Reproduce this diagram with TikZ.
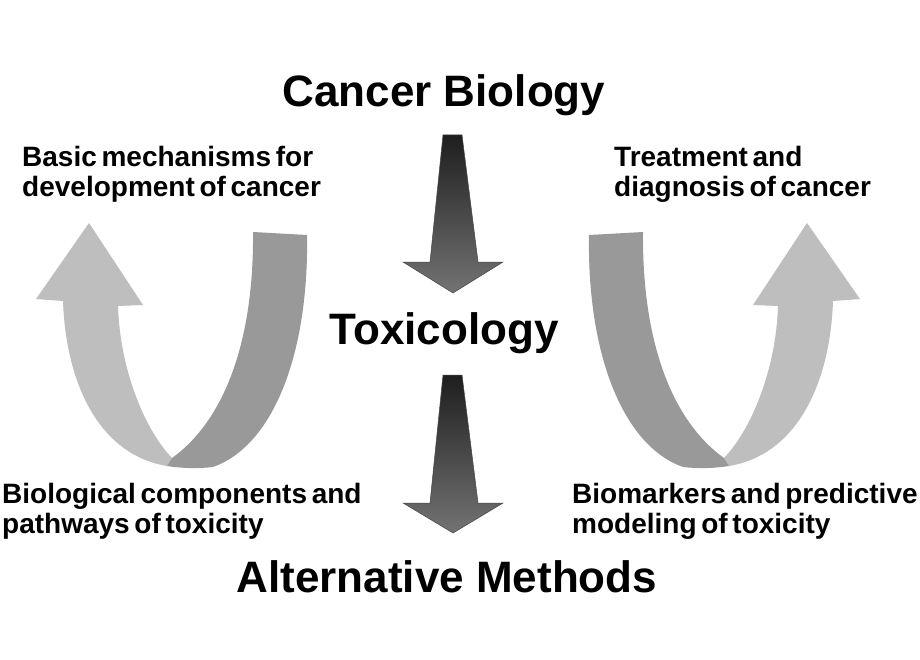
\documentclass[tikz,border=0pt]{standalone}
\usepackage{fontspec}
\setmainfont{Liberation Sans}
\newfontfamily\sidefont{Liberation Sans}[WordSpace=0.6]
\definecolor{ulight}{RGB}{190,190,190}
\definecolor{udark}{RGB}{153,153,153}
\definecolor{arrtop}{RGB}{30,30,30}
\definecolor{arrbot}{RGB}{115,115,115}
\definecolor{arrline}{RGB}{70,70,70}
\newcommand\ushapepaths{%
  \fill[ulight] (89,223) -- (143,305) -- (118,306)
    .. controls (120,370) and (145,430) .. (172,458) -- (167,466)
    .. controls (100,455) and (66,385) .. (63,301) -- (36,299) -- cycle;
  \fill[udark] (253,232) -- (307,235)
    .. controls (309,350) and (275,445) .. (213,467)
    .. controls (195,469) and (180,468) .. (167,466) -- (172,458)
    .. controls (225,420) and (254,340) .. (253,232) -- cycle;
}
\begin{document}
\begin{tikzpicture}[x=1pt,y=-1pt,
  title/.style={font=\fontsize{44}{48}\selectfont\bfseries, inner sep=0pt, anchor=base},
  sidetext/.style={font=\sidefont\fontsize{28}{30}\selectfont\bfseries, align=left, inner sep=0pt, anchor=base west},
  downarrow/.style={top color=arrtop, bottom color=arrbot, draw=arrline, line width=0.5pt, line join=miter}]
\useasboundingbox (0,0) rectangle (920,660);
\fill[white] (0,0) rectangle (920,660);
% U-shaped ribbon arrows
\ushapepaths
\begin{scope}[xshift=896pt, xscale=-1]
  \ushapepaths
\end{scope}
% titles
\node[title] (cb) at (444,107) {Cancer Biology};
\node[title] (tox) at (444,344) {Toxicology};
\node[title] (alt) at (447,592) {Alternative Methods};
% down arrows
\coordinate (a1) at (453,135);
\coordinate (a2) at (453,375);
\shade[downarrow] ([xshift=-10pt]a1) -- ([xshift=9pt]a1) -- ([xshift=25pt,yshift=-127pt]a1) -- ([xshift=50pt,yshift=-127pt]a1) -- ([yshift=-158pt]a1) -- ([xshift=-50pt,yshift=-127pt]a1) -- ([xshift=-23pt,yshift=-127pt]a1) -- cycle;
\shade[downarrow] ([xshift=-10pt]a2) -- ([xshift=9pt]a2) -- ([xshift=25pt,yshift=-128pt]a2) -- ([xshift=50pt,yshift=-128pt]a2) -- ([yshift=-158pt]a2) -- ([xshift=-50pt,yshift=-128pt]a2) -- ([xshift=-23pt,yshift=-128pt]a2) -- cycle;
% side texts (anchor = baseline of the last line)
\node[sidetext] (basic) at (22,197) {Basic mechanisms for\\development of cancer};
\node[sidetext] (treat) at (614,197) {Treatment and\\diagnosis of cancer};
\node[sidetext] (biol) at (2,533) {Biological components and\\pathways of toxicity};
\node[sidetext] (biom) at (572,533) {Biomarkers and predictive\\modeling of toxicity};
\end{tikzpicture}
\end{document}
